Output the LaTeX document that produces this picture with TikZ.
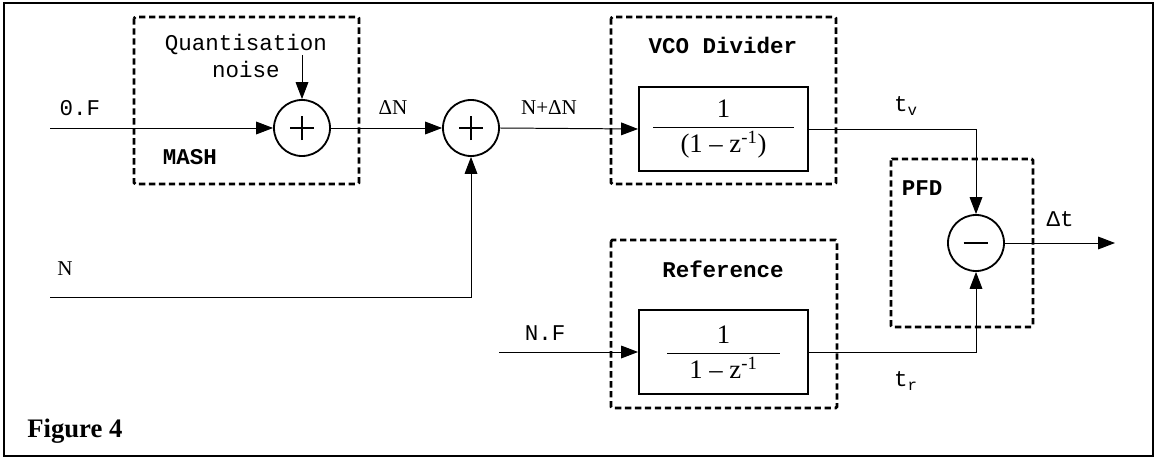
\documentclass[tikz,border=0pt]{standalone}
\usepackage{fontspec}
\usepackage{amsmath}
\setmainfont{Liberation Serif}
\newfontfamily\courfont{Liberation Mono}
\usetikzlibrary{arrows.meta}

\begin{document}
\begin{tikzpicture}[
  x=0.025cm, y=-0.025cm,
  sumnode/.style={circle, draw, line width=1.3pt, minimum size=1.4cm, inner sep=0pt},
  plus/.style={sumnode, path picture={
      \draw[line width=1.3pt] ([xshift=-0.3cm]path picture bounding box.center) -- ([xshift=0.3cm]path picture bounding box.center);
      \draw[line width=1.3pt] ([yshift=-0.3cm]path picture bounding box.center) -- ([yshift=0.3cm]path picture bounding box.center);}},
  minus/.style={sumnode, path picture={
      \draw[line width=1.3pt] ([xshift=-0.31cm]path picture bounding box.center) -- ([xshift=0.31cm]path picture bounding box.center);}},
  blk/.style={draw, line width=1.3pt, minimum width=4.225cm, minimum height=2.1cm, inner sep=0pt,
    font=\fontsize{19}{22}\selectfont},
  grp/.style={line width=2pt, dash pattern=on 4.5pt off 2.6pt, rounded corners=1pt},
  sig/.style={line width=0.7pt, -{Triangle[length=12pt,width=9pt]}},
  lbl/.style={font=\courfont\fontsize{16}{19}\selectfont, inner sep=0pt},
  tlbl/.style={font=\fontsize{15}{18}\selectfont, inner sep=0pt},
  ttl/.style={font=\courfont\bfseries\fontsize{16}{19}\selectfont, inner sep=0pt}
]
\useasboundingbox (0,0) rectangle (1157,459);
\draw[line width=1.4pt] (4,3) rectangle (1153,456);

% MASH
\draw[grp] (134,17) rectangle (359,184);
\node[ttl] (mashlbl) at (190,157) {MASH};
\node[lbl, align=center] (qnlbl) at (246,56) {Quantisation\\noise};
\coordinate (qn) at (302,55);
\node[plus] (sum1) at (302,128) {};
\coordinate (in0F) at (50,128);
\node[lbl] (lbl0F) at (80,108) {0.F};

% second adder
\node[plus] (sum2) at (471,128) {};
\node[tlbl] (lbldN) at (393,108) {ΔN};
\node[tlbl] (lblNdN) at (549,108) {N+ΔN};
\coordinate (inN) at (50,297);
\node[tlbl] (lblN) at (65,269) {N};

% VCO divider
\draw[grp] (611,17) rectangle (836,184);
\node[ttl] (vcolbl) at (723,45) {VCO Divider};
\node[blk] (vco) at (723.5,129) {$\dfrac{\hbox{1}}{\hbox to 100pt{\hss(1 – z\textsuperscript{-1})\hss}}$};
\node[lbl] (lbltv) at (906,106) {t\textsubscript{v}};

% Reference
\draw[grp] (611,240) rectangle (837,408);
\node[ttl] (reflbl) at (723,269) {Reference};
\node[blk] (ref) at (723.5,352) {$\dfrac{\hbox{1}}{\hbox to 80pt{\hss 1 – z\textsuperscript{-1}\hss}}$};
\coordinate (inNF) at (499,352);
\node[lbl] (lblNF) at (545,333) {N.F};
\node[lbl] (lbltr) at (906,381) {t\textsubscript{r}};

% PFD
\draw[grp] (891,159) rectangle (1033,327);
\node[ttl] (pfdlbl) at (922,188) {PFD};
\node[minus] (sub) at (976,243) {};
\coordinate (dtout) at (1115,243);
\node[lbl] (lbldt) at (1060,219) {Δt};

% connections
\draw[sig] (in0F) -- (sum1.west);
\draw[sig] (qn) -- (sum1.north);
\draw[sig] (sum1.east) -- (sum2.west);
\draw[sig] (inN) -| (sum2.south);
\draw[sig] (sum2.east) -- (vco.west);
\draw[sig] (vco.east) -| (sub.north);
\draw[sig] (inNF) -- (ref.west);
\draw[sig] (ref.east) -| (sub.south);
\draw[sig] (sub.east) -- (dtout);

\node[font=\bfseries\fontsize{19}{22}\selectfont, anchor=west, inner sep=0pt] (figlbl) at (27,431) {Figure 4};
\end{tikzpicture}
\end{document}
